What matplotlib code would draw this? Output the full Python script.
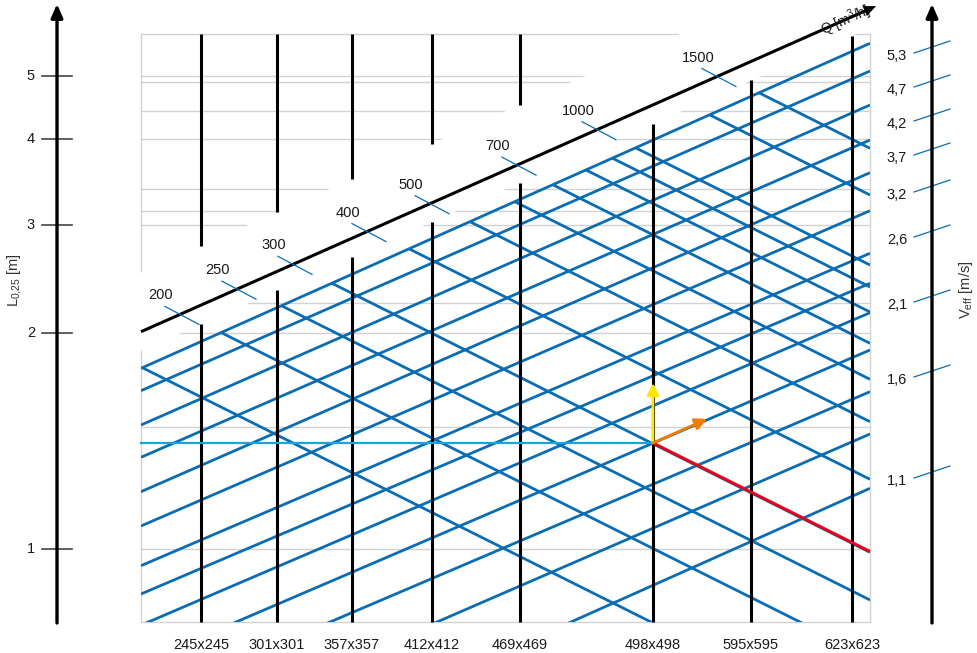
import numpy as np
import matplotlib.pyplot as plt
from matplotlib.patches import Polygon, Rectangle

plt.rcParams['font.family'] = ['Liberation Sans', 'DejaVu Sans']
plt.rcParams['mathtext.fontset'] = 'custom'
plt.rcParams['mathtext.rm'] = 'Liberation Sans'

# chart frame (units = reference pixels, y downwards)
BOX_L, BOX_R, BOX_T, BOX_B = 141, 870, 34, 622

# L_0,25 scale on the left
l_values = [1, 2, 3, 4, 5]
l_pos = [549, 333, 225, 139, 76]

# light grey reference lines
grid_y = [34, 76, 82, 111, 139, 189, 211, 225, 303, 333, 427, 549]

# Q scale along the diagonal
q_start_y = 331.7
q_slope = 0.443
q_values = [200, 250, 300, 400, 500, 700, 1000, 1500]
q_pos = [180, 237, 293, 367, 430, 517, 597, 717]

# diffuser sizes (vertical lines)
sizes = ['245x245', '301x301', '357x357', '412x412', '469x469',
         '498x498', '595x595', '623x623']
size_x = [201, 277, 352, 432, 520, 653, 751, 852]

# V_eff scale on the right
v_labels = ['5,3', '4,7', '4,2', '3,7', '3,2', '2,6', '2,1', '1,6', '1,1']
v_pos = [56, 90, 124, 158, 195, 240, 305, 380, 481]

# rising lattice lines: y at left edge / right edge of the box
rise_left = [368.3, 390.7, 425, 457.3, 491.7, 526, 565.7, 594, 625.2,
             662.8, 702.6, 750.5, 814.2]
rise_right = [43.3, 71, 105, 140, 172.7, 210.7, 253.3, 283.3, 312.7,
              350, 391.7, 434, 488.3]

# falling lattice lines (Q = 150 ... 1500): y at right edge (extended)
fall_q = [150, 200, 250, 300, 400, 500, 600, 700, 800, 900, 1000, 1250, 1500]
fall_right = [731.5, 657, 600, 552.3, 479.3, 421.7, 379.3, 343.3,
              312, 287, 265, 195, 148.3]
fall_slope = 0.5

# worked example
ex_y = 443
ex_col = 5

BLUE = '#0a6db3'
GREY = '#d2d2d2'
TXT = '#1a1a1a'


def q_line(x):
    return q_start_y - q_slope * (np.asarray(x, dtype=float) - BOX_L)


fig = plt.figure(figsize=(9.77, 6.53), dpi=100)
ax = fig.add_axes([0, 0, 1, 1])
ax.set_xlim(0, 977)
ax.set_ylim(653, 0)
ax.axis('off')

clip = Rectangle((BOX_L, BOX_T), BOX_R - BOX_L, BOX_B - BOX_T,
                 transform=ax.transData, facecolor='none', edgecolor='none')
ax.add_patch(clip)

# grey grid and frame
for y in grid_y:
    ax.plot([BOX_L, BOX_R], [y, y], color=GREY, lw=1.0, zorder=1)
ax.plot([BOX_L, BOX_L, BOX_R, BOX_R], [BOX_T, BOX_B, BOX_B, BOX_T],
        color=GREY, lw=1.0, zorder=1)

# white band along the Q axis (hides grid and columns)
bx = np.array([100, 920])
band = Polygon(np.column_stack([np.r_[bx, bx[::-1]],
                                np.r_[q_line(bx) - 59, q_line(bx[::-1]) + 19]]),
               facecolor='white', edgecolor='none', zorder=2)
ax.add_patch(band)

# lattice
for yl, yr in zip(rise_left, rise_right):
    ln, = ax.plot([BOX_L, BOX_R], [yl, yr], color=BLUE, lw=2.0,
                  solid_capstyle='butt', zorder=3)
    ln.set_clip_path(clip)

k_top = (rise_right[0] - rise_left[0]) / (BOX_R - BOX_L)
for yr in fall_right:
    # each Q line starts on the top rising line
    x0 = (yr - fall_slope * BOX_R - rise_left[0] + k_top * BOX_L) / (k_top - fall_slope)
    x0 = max(x0, BOX_L)
    y0 = yr - fall_slope * (BOX_R - x0)
    ln, = ax.plot([x0, BOX_R], [y0, yr], color=BLUE, lw=2.0,
                  solid_capstyle='butt', zorder=3)
    ln.set_clip_path(clip)

# size columns
for x, s in zip(size_x, sizes):
    qy = float(q_line(x))
    if qy - 59 > BOX_T + 20:
        ax.plot([x, x], [BOX_T, qy - 59], color='black', lw=2.2, zorder=4,
                solid_capstyle='butt')
    ax.plot([x, x], [max(qy + 19, BOX_T), BOX_B], color='black', lw=2.2,
            zorder=4, solid_capstyle='butt')
    ax.text(x, 645, s, ha='center', va='center', fontsize=10.5, color=TXT)

# worked example
cx = size_x[ex_col]
ax.plot([BOX_L, cx], [ex_y, ex_y], color='#1aa3dd', lw=1.6, zorder=5)
ax.plot([cx, BOX_R], [ex_y, ex_y + fall_slope * (BOX_R - cx)], color='#e3061b',
        lw=2.2, zorder=5, solid_capstyle='butt')
ax.annotate('', xy=(cx, ex_y - 60), xytext=(cx, ex_y),
            arrowprops=dict(arrowstyle='-|>,head_length=0.7,head_width=0.35',
                            color='#ffe600', lw=2.0, shrinkA=0, shrinkB=0),
            zorder=6)
ax.annotate('', xy=(cx + 54, ex_y + 54 * k_top), xytext=(cx, ex_y),
            arrowprops=dict(arrowstyle='-|>,head_length=0.7,head_width=0.35',
                            color='#ee7d00', lw=2.0, shrinkA=0, shrinkB=0),
            zorder=6)

# Q axis with ticks and labels
qx_end = 866
ax.plot([BOX_L, qx_end], [q_start_y, float(q_line(qx_end))], color='black',
        lw=2.2, zorder=6, solid_capstyle='butt')
ax.annotate('', xy=(876, float(q_line(876))), xytext=(qx_end - 4, float(q_line(qx_end - 4))),
            arrowprops=dict(arrowstyle='-|>,head_length=0.8,head_width=0.35',
                            color='black', lw=0.5, shrinkA=0, shrinkB=0),
            zorder=8)
for q, x in zip(q_values, q_pos):
    y = float(q_line(x))
    ax.plot([x - 15, x + 19], [y - 8, y + 10], color=BLUE, lw=0.9, zorder=6)
    ax.text(x - 19, y - 19, str(q), ha='center', va='center', fontsize=10.5,
            color=TXT, zorder=7)
ax.text(846, 21, 'Q [m$^3$/h]', rotation=np.degrees(np.arctan(q_slope)),
        ha='center', va='center', fontsize=10, color=TXT,
        rotation_mode='anchor', zorder=7)

# left L axis
ax.annotate('', xy=(57, 4), xytext=(57, 623),
            arrowprops=dict(arrowstyle='-|>,head_length=0.8,head_width=0.35',
                            color='black', lw=2.4, shrinkA=0, shrinkB=0))
for v, y in zip(l_values, l_pos):
    ax.plot([42, 72], [y, y], color='#444444', lw=1.2)
    ax.text(35, y, str(v), ha='right', va='center', fontsize=10.5, color=TXT)
ax.text(15, 280, r'L$_{\mathregular{0{,}25}}$ [m]', rotation=90, ha='center',
        va='center', fontsize=10.5, color='#333333')

# right V_eff axis
ax.annotate('', xy=(932, 4), xytext=(932, 623),
            arrowprops=dict(arrowstyle='-|>,head_length=0.8,head_width=0.35',
                            color='black', lw=2.4, shrinkA=0, shrinkB=0))
for lab, y in zip(v_labels, v_pos):
    ax.plot([914, 950], [y - 3, y - 15], color=BLUE, lw=0.9)
    ax.text(897, y, lab, ha='center', va='center', fontsize=10.5, color=TXT)
ax.text(966, 290, r'V$_{\mathregular{eff}}$ [m/s]', rotation=90, ha='center',
        va='center', fontsize=10.5, color='#333333')

fig.savefig('out.png', dpi=100)
